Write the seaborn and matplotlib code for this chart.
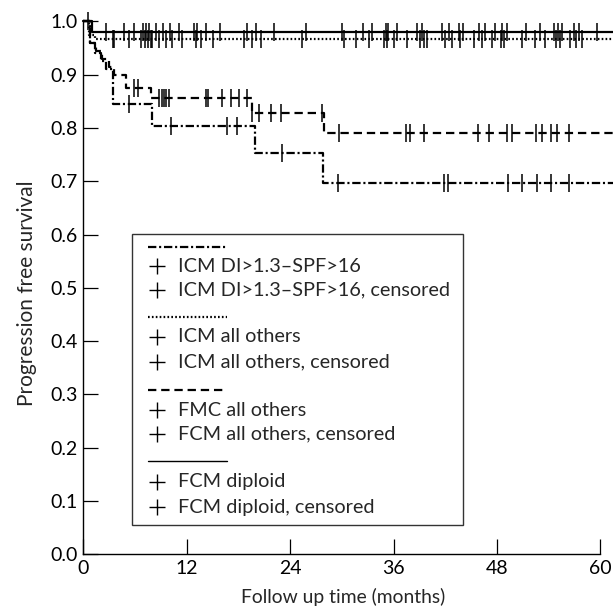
import numpy as np
import pandas as pd
import matplotlib
matplotlib.use("Agg")
import matplotlib.pyplot as plt
import seaborn as sns
from matplotlib.lines import Line2D
from matplotlib.patches import Rectangle

# ---------------- data ----------------
group_names = ["ICM DI>1.3\u2013SPF>16", "ICM all others", "FMC all others", "FCM diploid"]
censor_names = ["ICM DI>1.3\u2013SPF>16, censored", "ICM all others, censored",
                "FCM all others, censored", "FCM diploid, censored"]

# step curves (time in months, survival after the step), last point = end of follow up
icm_hi_time = [0, 0.8, 1.3, 2.0, 2.6, 3.5, 8.0, 19.9, 27.8, 61.5]
icm_hi_surv = [1.0, 0.96, 0.94, 0.925, 0.91, 0.845, 0.803, 0.753, 0.697, 0.697]

icm_oth_time = [0, 0.7, 1.3, 61.5]
icm_oth_surv = [1.0, 0.975, 0.966, 0.966]

fcm_oth_time = [0, 0.8, 1.5, 2.2, 3.0, 3.6, 5.0, 7.9, 19.6, 27.9, 61.5]
fcm_oth_surv = [1.0, 0.96, 0.945, 0.93, 0.915, 0.9, 0.875, 0.857, 0.8285, 0.79, 0.79]

fcm_dip_time = [0, 1.0, 61.5]
fcm_dip_surv = [1.0, 0.9805, 0.9805]

# censoring times
icm_hi_cens = [5.3, 10.2, 16.7, 17.8, 23.0, 29.5, 41.8, 42.3, 49.3, 50.9, 52.6, 54.3, 56.3]
fcm_oth_cens = [5.9, 6.3, 8.8, 9.1, 9.4, 9.6, 9.9, 14.2, 14.5, 16.1, 17.1, 18.1, 19.0, 19.6,
                20.4, 21.8, 22.9, 27.7, 29.7, 37.4, 37.9, 39.5, 45.8, 47.1, 49.2, 49.7,
                52.5, 53.2, 54.3, 54.9, 56.4]
fcm_dip_cens = [0.5, 2.6, 4.7, 5.9, 6.9, 7.3, 7.6, 8.4, 9.2, 10.0, 11.1, 12.9, 13.2, 14.2,
                15.9, 19.0, 20.0, 22.1, 25.8, 30.0, 32.5, 33.5, 35.1, 35.4, 36.4, 38.7,
                39.3, 41.6, 42.4, 43.6, 44.1, 45.9, 46.6, 47.8, 48.6, 49.1, 51.3, 53.0,
                54.6, 55.1, 55.5, 56.9, 57.5, 59.6]
icm_oth_cens = [3.4, 3.6, 5.3, 6.7, 7.1, 7.5, 7.8, 8.0, 8.8, 9.6, 10.3, 11.5, 13.1, 13.6,
                15.0, 18.6, 19.6, 20.6, 25.4, 30.2, 31.6, 33.1, 34.9, 35.2, 36.0, 37.6,
                39.1, 39.5, 39.9, 42.0, 42.8, 43.7, 45.3, 46.3, 47.4, 48.4, 48.8, 50.9,
                52.4, 53.6, 54.8, 55.3, 56.5, 57.1, 57.8]

x_ticks = [0, 12, 24, 36, 48, 60]
y_ticks = [0.0, 0.1, 0.2, 0.3, 0.4, 0.5, 0.6, 0.7, 0.8, 0.9, 1.0]

# ---------------- style ----------------
sns.set_theme(style="ticks")
plt.rcParams["font.family"] = ["Lato", "DejaVu Sans"]
plt.rcParams["lines.scale_dashes"] = False

styles = [(0, (6, 2, 1.5, 2)),   # dash-dot
          (0, (1.2, 1.6)),        # dotted
          (0, (6, 3.5)),          # dashed
          "-"]                    # solid

W, H = 613, 607
fig = plt.figure(figsize=(W / 100, H / 100), dpi=100)
x0, y0 = 83.3, 554.3
ax = fig.add_axes([x0 / W, 1 - y0 / H, (W - x0) / W, y0 / H])

series = [(icm_hi_time, icm_hi_surv, icm_hi_cens),
          (icm_oth_time, icm_oth_surv, icm_oth_cens),
          (fcm_oth_time, fcm_oth_surv, fcm_oth_cens),
          (fcm_dip_time, fcm_dip_surv, fcm_dip_cens)]

for (t, s, c), ls, name in zip(series, styles, group_names):
    df = pd.DataFrame({"time": t, "surv": s})
    sns.lineplot(data=df, x="time", y="surv", ax=ax, color="black", lw=1.6,
                 linestyle=ls, drawstyle="steps-post", estimator=None, sort=False,
                 clip_on=False)
    idx = np.searchsorted(np.array(t), np.array(c), side="right") - 1
    cdf = pd.DataFrame({"time": c, "surv": np.array(s)[idx]})
    sns.lineplot(data=cdf, x="time", y="surv", ax=ax, color="black", marker="|",
                 linestyle="none", markersize=13, markeredgewidth=1.1,
                 markeredgecolor="black", estimator=None, sort=False, clip_on=False)

ax.set_xlim(0, (W - x0) / 8.62)
ax.set_ylim(0, 1.04)
ax.set_xticks(x_ticks)
ax.set_yticks(y_ticks)
ax.set_yticklabels([f"{v:.1f}" for v in y_ticks])
ax.spines["top"].set_visible(False)
ax.spines["right"].set_visible(False)
ax.spines["left"].set_bounds(0, 1.0)
ax.spines["bottom"].set_bounds(0, 60)
for sp in ("left", "bottom"):
    ax.spines[sp].set_linewidth(1.0)
    ax.spines[sp].set_color("black")
ax.tick_params(direction="in", length=11, width=0.9, colors="black",
               labelsize=14, pad=4)
ax.set_xlabel("Follow up time (months)", fontsize=13.9)
ax.set_ylabel("Progression free survival", fontsize=15)
ax.xaxis.set_label_coords((343 - x0) / (W - x0), -(588 - y0) / y0)
ax.yaxis.set_label_coords(-(x0 - 37) / (W - x0), (y0 - 293) / y0)
ax.patch.set_alpha(0)

# ---------------- legend (drawn in pixel positions) ----------------
def fx(px):
    return px / W

def fy(py):
    return 1 - py / H

fig.add_artist(Rectangle((fx(132), fy(525)), fx(463) - fx(132), fy(234) - fy(525),
                         transform=fig.transFigure, fill=False, lw=1.0,
                         edgecolor="#333333"))
line_rows = [247, 317, 390, 461]
lab_rows = [(266, 290), (337, 362), (410, 434), (482, 507)]
for ls, ly, (r1, r2), name, cname in zip(styles, line_rows, lab_rows,
                                         group_names, censor_names):
    fig.add_artist(Line2D([fx(148), fx(227)], [fy(ly), fy(ly)], transform=fig.transFigure,
                          color="black", lw=1.6 if ls != "-" else 1.0, linestyle=ls))
    for ry, txt in ((r1, name), (r2, cname)):
        fig.add_artist(Line2D([fx(157)], [fy(ry)], transform=fig.transFigure,
                              marker="+", markersize=12, markeredgewidth=1.0,
                              color="black", linestyle="none"))
        fig.text(fx(178), fy(ry), txt, fontsize=14.3, va="center", ha="left")

fig.savefig("out.png", dpi=100)
